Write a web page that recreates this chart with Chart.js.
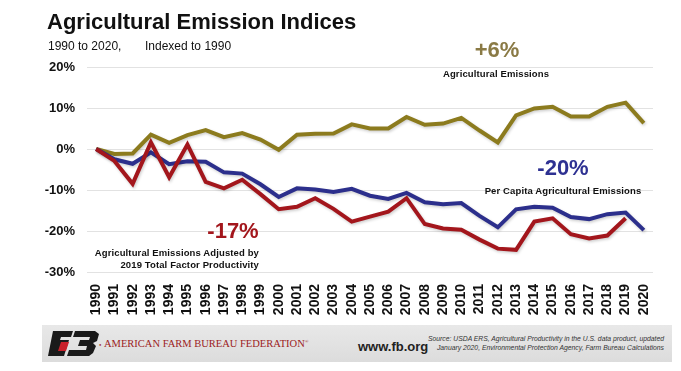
<!DOCTYPE html>
<html>
<head>
<meta charset="utf-8">
<script src="https://cdn.jsdelivr.net/npm/chart.js@4.4.1/dist/chart.umd.min.js"></script>
<style>
  html, body { margin: 0; padding: 0; background: #fff; }
  body { width: 681px; height: 371px; position: relative; overflow: hidden; font-family: "Liberation Sans", Arial, sans-serif; }
  #wrap { position: absolute; left: 0; top: 0; width: 681px; height: 371px; }
  .t { position: absolute; white-space: nowrap; }
  #title { left: 47px; top: 9px; font-size: 22px; font-weight: bold; color: #111; }
  #sub1 { left: 48px; top: 39px; font-size: 12px; color: #111; }
  #sub2 { left: 145px; top: 39px; font-size: 12px; color: #111; }
  .big { font-weight: bold; font-size: 22px; transform: translate(-50%, -50%); }
  .lab { font-weight: bold; font-size: 9.5px; color: #111; letter-spacing: 0.12px; }
  #footer { position: absolute; left: 42px; top: 325px; width: 630px; height: 37px; background: linear-gradient(#e8e8e8, #dcdcdc); }
</style>
</head>
<body>
<div id="wrap"><canvas id="c" width="681" height="371"></canvas></div>
<div id="title" class="t">Agricultural Emission Indices</div>
<div id="sub1" class="t">1990 to 2020,</div>
<div id="sub2" class="t">Indexed to 1990</div>

<div class="t big" style="left:497px; top:50px; color:#8a7a45;">+6%</div>
<div class="t lab" style="left:496px; top:73px; transform:translate(-50%,-50%);">Agricultural Emissions</div>

<div class="t big" style="left:563px; top:168px; color:#2e3192;">-20%</div>
<div class="t lab" style="left:563px; top:190px; transform:translate(-50%,-50%);">Per Capita Agricultural Emissions</div>

<div class="t big" style="left:233px; top:231px; color:#a3161c;">-17%</div>
<div class="t lab" style="right:422px; top:247px; text-align:right; line-height:11.5px;">Agricultural Emissions Adjusted by<br>2019 Total Factor Productivity</div>

<div id="footer">
  <svg style="position:absolute; left:6px; top:6px;" width="54" height="25" viewBox="0 0 54 25">
    <polygon points="5,0 25,0 23,6 13,6 12,9 21,9 16,25 0,25" fill="#1a1a1a"/>
    <polygon points="13,11 21,11 18,20 10,20" fill="#c8202a"/>
    <polygon points="27,0 47,0 51,3 49,10 45,12 48,15 45,22 41,25 19,25 21,19 38,19 39,15 30,15 32,9 41,9 42,6 25,6" fill="#1a1a1a"/>
  </svg>
  <div class="t" style="left:57px; top:17px; font-size:4px; color:#9c1c22;">●</div>
  <div class="t" style="left:62px; top:13px; font-family:'Liberation Serif', serif; font-size:10.5px; color:#9c1c22;">AMERICAN FARM BUREAU FEDERATION<sup style="font-size:5px;">®</sup></div>
  <div class="t" style="left:316px; top:14px; font-size:13px; font-weight:bold; color:#222;">www.fb.org</div>
  <div class="t" style="right:8px; top:9px; font-size:6.8px; font-style:italic; color:#333; text-align:right; line-height:9px;">Source: USDA ERS, Agricultural Productivity in the U.S. data product, updated<br>January 2020, Environmental Protection Agency, Farm Bureau Calculations</div>
</div>

<script>
const years = ["1990","1991","1992","1993","1994","1995","1996","1997","1998","1999","2000","2001","2002","2003","2004","2005","2006","2007","2008","2009","2010","2011","2012","2013","2014","2015","2016","2017","2018","2019","2020"];
const agEmissions = [0, -1.2, -1.1, 3.5, 1.5, 3.4, 4.6, 2.9, 3.9, 2.3, -0.2, 3.5, 3.7, 3.8, 6.0, 5.0, 5.0, 7.8, 5.9, 6.2, 7.6, 4.5, 1.6, 8.2, 9.9, 10.3, 7.9, 7.9, 10.3, 11.3, 6.3];
const perCapita = [0, -2.5, -3.6, -0.8, -3.7, -3.0, -3.1, -5.7, -6.0, -8.6, -11.7, -9.6, -9.9, -10.5, -9.7, -11.4, -12.2, -10.7, -13.0, -13.5, -13.2, -16.3, -19.1, -14.7, -14.1, -14.3, -16.6, -17.1, -15.9, -15.5, -19.8];
const tfpAdjusted = [0, -2.9, -8.5, 1.6, -6.9, 1.1, -8.0, -9.6, -7.5, -11.0, -14.7, -14.1, -12.0, -14.6, -17.7, -16.5, -15.3, -12.0, -18.3, -19.4, -19.7, -22.1, -24.3, -24.6, -17.7, -16.9, -20.8, -21.8, -21.1, -16.9, null];
const yTicks = [-30, -20, -10, 0, 10, 20];

const shadow = {
  id: 'shadow',
  beforeDatasetDraw(chart) { const c = chart.ctx; c.save(); c.shadowColor = 'rgba(0,0,0,0.2)'; c.shadowBlur = 3; c.shadowOffsetX = 1; c.shadowOffsetY = 1.5; },
  afterDatasetDraw(chart) { chart.ctx.restore(); }
};

new Chart(document.getElementById('c'), {
  type: 'line',
  data: {
    labels: years,
    datasets: [
      { label: 'Agricultural Emissions', data: agEmissions, borderColor: '#8c7b1e', order: 3 },
      { label: 'Per Capita Agricultural Emissions', data: perCapita, borderColor: '#2c2f8c', order: 2 },
      { label: 'Agricultural Emissions Adjusted by 2019 Total Factor Productivity', data: tfpAdjusted, borderColor: '#a3161c', order: 1 }
    ]
  },
  options: {
    responsive: false,
    animation: false,
    events: [],
    layout: { padding: { top: 67, right: 28, bottom: 46, left: 0 } },
    elements: { line: { borderWidth: 4, tension: 0, borderJoinStyle: 'miter', borderCapStyle: 'butt' }, point: { radius: 0 } },
    plugins: { legend: { display: false }, tooltip: { enabled: false }, title: { display: false } },
    scales: {
      x: {
        type: 'category',
        offset: true,
        grid: { display: false },
        border: { display: false },
        ticks: { autoSkip: false, maxRotation: 90, minRotation: 90, padding: 4, color: '#111', font: { family: 'Liberation Sans', weight: 'bold', size: 14 } },
        afterFit(s) { s.height = 53; }
      },
      y: {
        min: -30, max: 20,
        afterBuildTicks(s) { s.ticks = yTicks.map(v => ({ value: v })); },
        grid: { color: '#e2e2e2', lineWidth: 1, drawTicks: false },
        border: { display: false },
        ticks: { padding: 12, color: '#111', font: { family: 'Liberation Sans', weight: 'bold', size: 13 }, callback: v => v + '%' },
        afterFit(s) { s.width = 87; }
      }
    }
  },
  plugins: [shadow]
});
</script>
</body>
</html>
